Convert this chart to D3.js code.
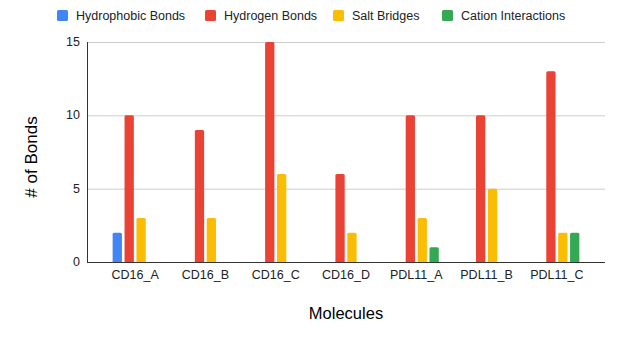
<!DOCTYPE html>
<html><head><meta charset="utf-8">
<script src="https://cdn.jsdelivr.net/npm/d3@7"></script>
<style>body{margin:0;background:#fff}text{font-family:"Liberation Sans",Arial,sans-serif}</style>
</head><body>
<svg id="c" width="624" height="342"></svg>
<script>
const categories = ["CD16_A","CD16_B","CD16_C","CD16_D","PDL11_A","PDL11_B","PDL11_C"];
const seriesNames = ["Hydrophobic Bonds","Hydrogen Bonds","Salt Bridges","Cation Interactions"];
const hydrophobic = [2,0,0,0,0,0,0];
const hydrogen = [10,9,15,6,10,10,13];
const salt = [3,3,6,2,3,5,2];
const cation = [0,0,0,0,1,0,2];
const yTicks = [0,5,10,15];
const colors = ["#4285F4","#EA4335","#FBBC04","#34A853"];
const seriesValues = [hydrophobic, hydrogen, salt, cation];

(function(){
const svg = d3.select("#c");
const pl = 87, pr = 605, pt = 42, pb = 262;
const y = d3.scaleLinear().domain([0,15]).range([pb, pt]);
const x = d3.scaleBand().domain(categories).range([100, 592]).padding(0);
const xs = d3.scaleBand().domain(d3.range(4)).range([-22.5, 22.5]).paddingInner(0.22);

svg.append("g").selectAll("line").data(yTicks.filter(d=>d>0)).join("line")
  .attr("x1", pl).attr("x2", pr).attr("y1", d=>y(d)+0.5).attr("y2", d=>y(d)+0.5)
  .attr("stroke", "#ccc").attr("stroke-width", 1);

svg.append("g").selectAll("text").data(yTicks).join("text")
  .attr("x", 80).attr("y", d=>y(d)+4).attr("text-anchor","end")
  .attr("font-size", 12.5).attr("fill","#222").text(d=>d);

categories.forEach((c,i)=>{
  seriesValues.forEach((vals,s)=>{
    const v = vals[i];
    if (v<=0) return;
    const bx = x(c) + x.bandwidth()/2 + xs(s);
    const w = xs.bandwidth();
    const r = 1.5;
    svg.append("path")
      .attr("d", `M${bx},${pb}V${y(v)+r}Q${bx},${y(v)} ${bx+r},${y(v)}H${bx+w-r}Q${bx+w},${y(v)} ${bx+w},${y(v)+r}V${pb}Z`)
      .attr("fill", colors[s]);
  });
});

svg.append("line").attr("x1",pl+0.5).attr("x2",pl+0.5).attr("y1",pt).attr("y2",pb).attr("stroke","#333");
svg.append("line").attr("x1",pl).attr("x2",pr).attr("y1",pb+0.5).attr("y2",pb+0.5).attr("stroke","#333");

svg.append("g").selectAll("text").data(categories).join("text")
  .attr("x", d=>x(d)+x.bandwidth()/2).attr("y", 279).attr("text-anchor","middle")
  .attr("font-size", 12.5).attr("fill","#222").text(d=>d);

svg.append("text").attr("x", 346).attr("y", 319).attr("text-anchor","middle")
  .attr("font-size", 16.5).attr("fill","#000").text("Molecules");
svg.append("text").attr("transform","translate(37,157) rotate(-90)").attr("text-anchor","middle")
  .attr("font-size", 17).attr("fill","#000").text("# of Bonds");

const legX = [57, 205, 333, 442];
seriesNames.forEach((n,i)=>{
  svg.append("rect").attr("x", legX[i]).attr("y", 10).attr("width", 11).attr("height", 11).attr("rx",1.5).attr("fill", colors[i]);
  svg.append("text").attr("x", legX[i]+19).attr("y", 20).attr("font-size", 12.5).attr("fill","#222").text(n);
});
})();
</script>
</body></html>
